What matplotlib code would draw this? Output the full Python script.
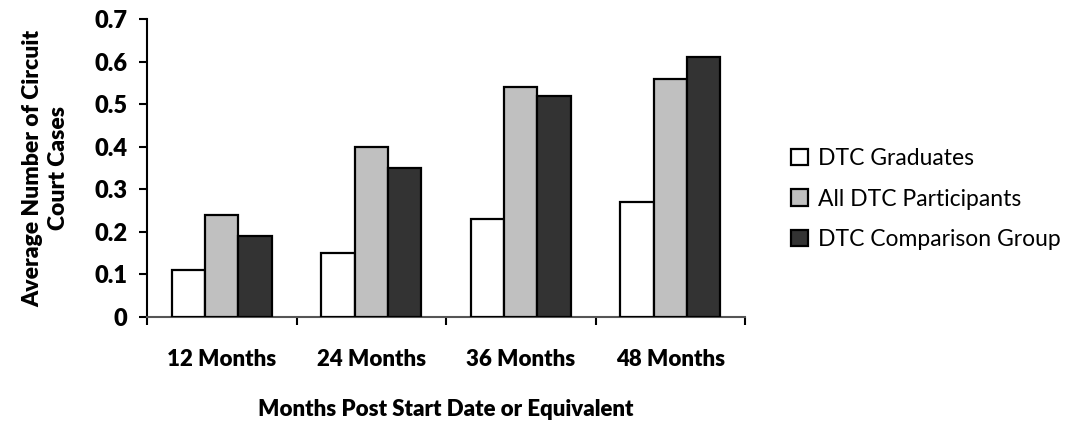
import numpy as np
import matplotlib.pyplot as plt
from matplotlib.ticker import FixedLocator

# Data
categories = ['12 Months', '24 Months', '36 Months', '48 Months']
graduates = [0.11, 0.15, 0.23, 0.27]
all_participants = [0.24, 0.40, 0.54, 0.56]
comparison = [0.19, 0.35, 0.52, 0.61]
series_names = ['DTC Graduates', 'All DTC Participants', 'DTC Comparison Group']

plt.rcParams['font.family'] = ['Lato', 'DejaVu Sans']

fig = plt.figure(figsize=(10.67, 4.26), dpi=100)
ax = fig.add_axes([147 / 1067, 1 - 317 / 426, (745 - 147) / 1067, (317 - 19) / 426])

x = np.arange(len(categories))
w = 0.222
colors = ['white', '#c0c0c0', '#333333']
for i, (vals, name) in enumerate(zip([graduates, all_participants, comparison], series_names)):
    ax.bar(x + (i - 1) * w, vals, width=w, color=colors[i], edgecolor='black',
           linewidth=1.6, label=name, zorder=3)

ax.set_xlim(-0.5, len(categories) - 0.5)
ax.set_ylim(0, 0.7)
ax.set_yticks(np.arange(0, 0.71, 0.1))
ax.set_yticklabels(['0', '0.1', '0.2', '0.3', '0.4', '0.5', '0.6', '0.7'],
                   fontsize=17, fontweight='heavy')
ax.xaxis.set_major_locator(FixedLocator(np.arange(-0.5, len(categories), 1.0)))
ax.set_xticklabels([])
ax.set_xticks(x, minor=True)
ax.set_xticklabels(categories, minor=True, fontsize=16, fontweight='heavy')
ax.tick_params(axis='x', which='minor', length=0, pad=23)
ax.tick_params(axis='x', which='major', length=6, width=1.5, direction='out')
ax.tick_params(axis='y', length=6, width=1.5, direction='out', pad=8)

for s in ['top', 'right']:
    ax.spines[s].set_visible(False)
ax.spines['left'].set_linewidth(1.5)
ax.spines['bottom'].set_linewidth(1.5)
ax.spines['bottom'].set_color('#555555')

ax.set_xlabel('Months Post Start Date or Equivalent', fontsize=16, fontweight='heavy', labelpad=21)
ax.set_ylabel('Average Number of Circuit\nCourt Cases', fontsize=16.5, fontweight='heavy',
              labelpad=18, linespacing=1.3)

leg = fig.legend(loc='center left', bbox_to_anchor=(770 / 1067, 1 - 199 / 426), frameon=False,
                 fontsize=16.5, handlelength=0.75, handleheight=0.75, handletextpad=0.45,
                 labelspacing=0.85)

fig.savefig('out.png', dpi=100)
